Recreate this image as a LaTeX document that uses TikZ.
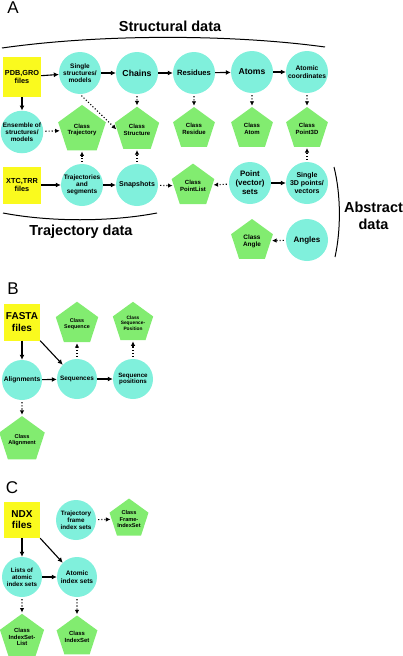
\documentclass[tikz,border=0pt]{standalone}
\usepackage{fontspec}
\setmainfont{Liberation Sans}
\usepackage{tikz}
\usetikzlibrary{ shapes.geometric, % For the pentagons
                 arrows.meta,
               }
\newcommand{\fsz}[1]{\fontsize{#1}{\fpeval{1.12*#1}}\selectfont}
\definecolor{bubble}{RGB}{128,240,220}
\definecolor{leaf}{RGB}{130,236,112}
\definecolor{lemon}{RGB}{250,250,30}
\tikzset{
  datum/.style={circle, fill=bubble, minimum size=42pt, inner sep=0pt,
                align=center, font=\bfseries\fsz{#1}},
  datum/.default=7,
  datum_small/.style={datum=#1, minimum size=40pt},
  datum_small/.default=6.3,
  klass/.style={regular polygon, regular polygon sides=5, fill=leaf,
                minimum size=44pt, inner sep=0pt, align=center,
                font=\bfseries\fsz{#1}},
  klass/.default=6,
  klass_small/.style={klass=#1, minimum size=41pt},
  klass_small/.default=5.6,
  source/.style={rectangle, fill=lemon, minimum width=38pt,
                 minimum height=38pt, inner sep=0pt, align=center,
                 font=\bfseries\fsz{#1}},
  source/.default=7.3,
}
\tikzstyle{edge} = [-{Latex[length=5pt,width=5pt]}, line width=1.1pt]
\tikzstyle{link} = [-{Latex[length=4.5pt,width=4.5pt]}, line width=1.1pt,
                    dash pattern=on 1.1pt off 2pt, shorten <=2pt, shorten >=1pt]
\tikzstyle{heading} = [align=center, font=\bfseries\fontsize{14.5}{17}\selectfont]
\tikzstyle{panel} = [font=\fsz{17}]

\begin{document}
\begin{tikzpicture}[x=1pt, y=-1pt]
  \useasboundingbox (0,0) rectangle (403,656);

  % A: structural, trajectory and abstract data
  \node (la) [panel] at (13,8) {A};
  \node (hstruct) [heading] at (170,26) {Structural data};
  \draw [line width=1pt] (2,48) .. controls (100,34) and (230,34) .. (325,47);

  \node (pdb) [source, minimum height=40pt] at (22,77) {PDB,GRO\\files};
  \node (single) [datum=6.5] at (80,73) {Single\\structures/\\models};
  \node (chains) [datum=8.7] at (137,73) {Chains};
  \node (residues) [datum=7.6] at (194,73) {Residues};
  \node (atoms) [datum=8.6] at (252,72) {Atoms};
  \node (coords) [datum=6.7] at (307,72) {Atomic\\coordinates};

  \node (ensemble) [datum=6.4] at (22,132) {Ensemble of\\structures/\\models};
  \node (ctraj) [klass] at (82,130) {Class\\Trajectory};
  \node (cstruct) [klass] at (137,130) {Class\\Structure};
  \node (cresidue) [klass] at (194,129) {Class\\Residue};
  \node (catom) [klass] at (252,129) {Class\\Atom};
  \node (cpoint3d) [klass] at (307,129) {Class\\Point3D};

  \node (xtc) [source, minimum height=37pt] at (22,185) {XTC,TRR\\files};
  \node (trajseg) [datum=6.5] at (82,185) {Trajectories\\and\\segments};
  \node (snap) [datum=7] at (137,185) {Snapshots};
  \node (cpointlist) [klass] at (193,186) {Class\\PointList};
  \node (pointsets) [datum=7.9] at (250,183) {Point\\(vector)\\sets};
  \node (single3d) [datum=7] at (307,183) {Single\\3D points/\\vectors};

  \node (cangle) [klass=6.4] at (252,241) {Class\\Angle};
  \node (angles) [datum=8] at (307,240) {Angles};

  \node (htraj) [heading] at (81,232) {Trajectory data};
  \draw [line width=1pt] (3,213) .. controls (50,222) and (110,222) .. (157,213);
  \node (habs) [heading] at (373.5,216) {Abstract\\data};
  \draw [line width=1pt] (334,167) .. controls (341,195) and (341,230) .. (335,257);

  \path [edge] (pdb) edge (single);
  \path [edge] (single) edge (chains);
  \path [edge] (chains) edge (residues);
  \path [edge] (residues) edge (atoms);
  \path [edge] (atoms) edge (coords);
  \path [edge] (pdb) edge (ensemble);
  \path [edge] (xtc) edge (trajseg);
  \path [edge] (trajseg) edge (snap);
  \path [edge] (pointsets) edge (single3d);

  \path [link] (ensemble) edge (ctraj);
  \path [link] (single.south) edge (cstruct.west);
  \path [link] (chains) edge (cstruct);
  \path [link] (residues) edge (cresidue);
  \path [link] (atoms) edge (catom);
  \path [link] (coords) edge (cpoint3d);
  \path [link] (trajseg) edge (ctraj);
  \path [link] (snap) edge (cstruct);
  \path [link] (snap) edge (cpointlist);
  \path [link] (pointsets) edge (cpointlist);
  \path [link] (single3d) edge (cpoint3d);
  \path [link] (angles) edge (cangle);

  % B: sequence data
  \node (lb) [panel] at (13,289) {B};
  \node (fasta) [source=10, minimum width=36pt, minimum height=37pt] at (22,322) {FASTA\\files};
  \node (cseq) [klass_small=5.4] at (77,324) {Class\\Sequence};
  \node (cseqpos) [klass_small=4.8] at (133,323) {Class\\Sequence-\\Position};
  \node (alignments) [datum_small=6.7] at (22,380) {Alignments};
  \node (sequences) [datum_small=6.4] at (77,379) {Sequences};
  \node (seqpos) [datum_small=6.2] at (133,379) {Sequence\\positions};
  \node (calign) [klass_small] at (22,440) {Class\\Alignment};

  \path [edge] (fasta) edge (alignments);
  \path [edge] (fasta.south east) edge (sequences.north west);
  \path [edge] (alignments) edge (sequences);
  \path [edge] (sequences) edge (seqpos);
  \path [link] (sequences) edge (cseq);
  \path [link] (seqpos) edge (cseqpos);
  \path [link] (alignments) edge (calign);

  % C: index data
  \node (lc) [panel] at (12,488) {C};
  \node (ndx) [source=10, minimum width=36pt, minimum height=36pt] at (22,520) {NDX\\files};
  \node (trajframe) [datum_small] at (76,520) {Trajectory\\frame\\index sets};
  \node (cframe) [klass_small] at (129,519) {Class\\Frame-\\IndexSet};
  \node (lists) [datum_small=6.2] at (22,577) {Lists of\\atomic\\index sets};
  \node (atomic) [datum_small=6.6] at (77,577) {Atomic\\index sets};
  \node (cislist) [klass_small=5.9] at (22,637) {Class\\IndexSet-\\List};
  \node (cis) [klass_small=5.9] at (77,637) {Class\\IndexSet};

  \path [edge] (ndx) edge (lists);
  \path [edge] (ndx.south east) edge (atomic.north west);
  \path [edge] (lists) edge (atomic);
  \path [link] (trajframe) edge (cframe);
  \path [link] (lists) edge (cislist);
  \path [link] (atomic) edge (cis);
\end{tikzpicture}
\end{document}
